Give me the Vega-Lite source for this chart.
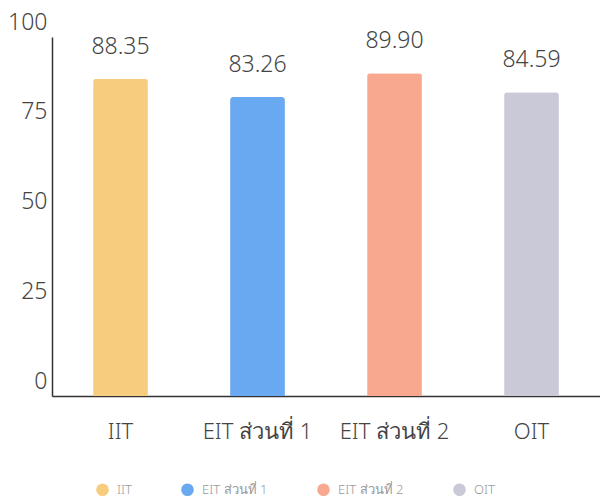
{
  "$schema": "https://vega.github.io/schema/vega-lite/v6.json",
  "autosize": "none",
  "width": 548,
  "height": 359,
  "padding": {"left": 52, "top": 37, "right": 0, "bottom": 106},
  "background": "white",
  "data": {"values": [
    {"group": "IIT", "score": 88.35},
    {"group": "EIT ส่วนที่ 1", "score": 83.26},
    {"group": "EIT ส่วนที่ 2", "score": 89.90},
    {"group": "OIT", "score": 84.59}
  ]},
  "encoding": {
    "x": {"field": "group", "type": "nominal", "sort": null,
      "scale": {"paddingInner": 0.6, "paddingOuter": 0.3},
      "axis": {"title": null, "labelAngle": 0, "ticks": false, "labelFontSize": 22, "labelFontWeight": 300, "labelColor": "#444", "labelPadding": 25, "domainColor": "#333", "domainWidth": 1.5, "labelFont": "Noto Sans"}},
    "y": {"field": "score", "type": "quantitative",
      "scale": {"domain": [0, 100], "nice": false},
      "axis": {"title": null, "values": [0, 25, 50, 75, 100], "ticks": false, "grid": false, "labelFontSize": 23, "labelFontWeight": 300, "labelColor": "#444", "labelPadding": 5, "labelOffset": -15, "domainColor": "#333", "domainWidth": 1.5, "labelFont": "Noto Sans"}}
  },
  "layer": [
    {"mark": {"type": "bar", "cornerRadiusTopLeft": 3, "cornerRadiusTopRight": 3},
      "encoding": {
        "color": {"field": "group", "type": "nominal", "sort": null,
          "scale": {"range": ["#F8CC7E", "#68A9F1", "#F9A890", "#C9C9D8"]},
          "legend": {"title": null, "orient": "none", "legendX": 44, "legendY": 446, "direction": "horizontal", "symbolType": "circle", "symbolSize": 160, "symbolStrokeWidth": 0, "labelFontSize": 13, "labelFontWeight": 300, "labelColor": "#999", "columnPadding": 49, "labelOffset": 8, "labelFont": "Noto Sans"}
        }
      }},
    {"mark": {"type": "text", "baseline": "bottom", "dy": -20, "fontSize": 23, "fontWeight": 300, "color": "#444", "font": "Noto Sans"},
      "encoding": {"text": {"field": "score", "type": "quantitative", "format": ".2f"}}}
  ],
  "config": {"view": {"stroke": null}}
}
